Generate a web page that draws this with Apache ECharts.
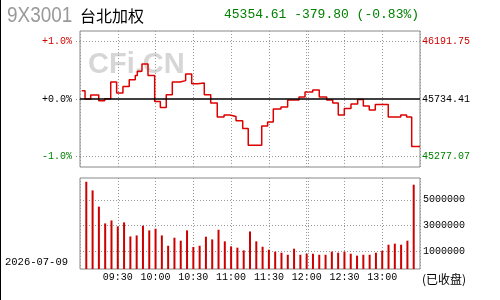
<!DOCTYPE html>
<html><head><meta charset="utf-8">
<script src="https://cdn.jsdelivr.net/npm/echarts@6/dist/echarts.min.js"></script>
<style>html,body{margin:0;padding:0;background:#fff}#c{width:500px;height:300px}</style>
</head><body><div id="c"></div>
<script>
// ---- data ----
const codeText = '9X3001';
const nameText = '台北加权';
const quoteText = '45354.61 -379.80 (-0.83%)';
const dateText = '2026-07-09';
const statusText = '(已收盘)';
const watermarkText = 'CFi.CN';

const basePrice = 45734.41;           // previous close
const pctTickValues = [0.01, 0, -0.01];
const pctTickLabels = ['+1.0%', '+0.0%', '-1.0%'];
const priceTickLabels = ['46191.75', '45734.41', '45277.07'];
const tickColors = ['#cc0000', '#000000', '#008000'];

const timeTickValues = [30, 60, 90, 120, 150, 180, 210, 240];   // minutes after 09:00
const timeTickLabels = ['09:30', '10:00', '10:30', '11:00', '11:30', '12:00', '12:30', '13:00'];

const volTickValues = [1000000, 3000000, 5000000];
const volTickLabels = ['1000000', '3000000', '5000000'];

// price step changes: minutes after 09:00, index value
const priceTimes = [1.4, 4.0, 8.5, 14.9, 19.6, 24.4, 29.1, 34.1, 39.1, 43.9, 45.5, 49.2, 54.0, 59.3, 63.8, 68.5,
  73.3, 79.4, 83.9, 88.7, 93.5, 98.7, 103.8, 109.0, 114.4, 119.1, 123.9, 129.2, 133.6, 144.3, 149.0, 153.5,
  159.6, 164.9, 173.9, 178.7, 184.8, 190.0, 195.9, 200.7, 205.1, 209.9, 215.2, 220.5, 225.0, 229.7, 234.5,
  244.8, 254.7, 259.4, 263.4, 270];
const priceValues = [45801, 45734, 45766, 45721, 45737, 45870, 45782, 45835, 45889, 45923, 45955, 46014, 45923, 45715, 45667, 45769,
  45870, 45881, 45934, 45857, 45862, 45769, 45702, 45590, 45606, 45595, 45561, 45499, 45365, 45518, 45550, 45654,
  45670, 45726, 45750, 45790, 45806, 45750, 45726, 45702, 45606, 45659, 45694, 45731, 45678, 45646, 45691,
  45590, 45606, 45590, 45355, 45354.61];

// volume per 5-minute bar
const volTimes = ['09:05','09:10','09:15','09:20','09:25','09:30','09:35','09:40','09:45','09:50','09:55','10:00',
  '10:05','10:10','10:15','10:20','10:25','10:30','10:35','10:40','10:45','10:50','10:55','11:00','11:05','11:10',
  '11:15','11:20','11:25','11:30','11:35','11:40','11:45','11:50','11:55','12:00','12:05','12:10','12:15','12:20',
  '12:25','12:30','12:35','12:40','12:45','12:50','12:55','13:00','13:05','13:10','13:15','13:20','13:25'];
const volValues = [6400000, 5730000, 4470000, 3170000, 3400000, 2940000, 3250000, 2160000, 2240000, 2990000, 2630000, 2760000,
  2240000, 1440000, 2060000, 1830000, 2630000, 1340000, 1440000, 2140000, 1930000, 2680000, 1780000, 1390000, 1290000, 1080000,
  2550000, 1780000, 1360000, 1130000, 980000, 900000, 740000, 1210000, 740000, 820000, 820000, 740000, 740000, 980000,
  900000, 980000, 820000, 670000, 740000, 740000, 900000, 1050000, 1520000, 1600000, 1520000, 1830000, 6170000];

// ---- chart ----
const toMin = s => { const p = s.split(':'); return (+p[0] - 9) * 60 + (+p[1]); };
const priceData = priceTimes.map((t, i) => [t, priceValues[i]]);
const volData = volTimes.map((t, i) => [toMin(t), volValues[i]]);
const priceTicks = pctTickValues.map(p => basePrice * (1 + p));
const pRange = 0.01187;
const idxOf = (arr, v) => { let b = 0; arr.forEach((a, i) => { if (Math.abs(a - v) < Math.abs(arr[b] - v)) b = i; }); return b; };
const MONO = '"Liberation Mono", monospace';
const dotted = { color: '#999', type: [1, 2], width: 1 };

const chart = echarts.init(document.getElementById('c'), null, { renderer: 'canvas' });
chart.setOption({
  animation: false,
  backgroundColor: '#fff',
  grid: [
    { left: 80, width: 340, top: 31, height: 136, show: true, borderColor: '#888', borderWidth: 1, backgroundColor: 'transparent' },
    { left: 80, width: 340, top: 178, height: 91, show: true, borderColor: '#888', borderWidth: 1, backgroundColor: 'transparent' }
  ],
  xAxis: [
    { gridIndex: 0, type: 'value', min: 0, max: 270, interval: 30,
      axisLine: { show: false }, axisTick: { show: false }, axisLabel: { show: false },
      splitLine: { show: true, lineStyle: dotted } },
    { gridIndex: 1, type: 'value', min: 0, max: 270, interval: 30,
      axisLine: { show: false }, axisTick: { show: false },
      axisLabel: { show: true, customValues: timeTickValues, margin: 3, fontFamily: MONO, fontSize: 10, color: '#000',
        formatter: v => timeTickLabels[idxOf(timeTickValues, v)] },
      splitLine: { show: true, lineStyle: dotted } }
  ],
  yAxis: [
    { gridIndex: 0, type: 'value', position: 'left', min: basePrice * (1 - pRange), max: basePrice * (1 + pRange),
      axisLine: { show: false }, splitLine: { show: false },
      axisTick: { show: true, customValues: priceTicks, length: 5, lineStyle: dotted },
      axisLabel: { show: true, customValues: priceTicks, margin: 8, fontFamily: MONO, fontSize: 10,
        formatter: v => pctTickLabels[idxOf(priceTicks, v)],
        color: v => tickColors[idxOf(priceTicks, v)] } },
    { gridIndex: 0, type: 'value', position: 'right', min: basePrice * (1 - pRange), max: basePrice * (1 + pRange),
      axisLine: { show: false }, splitLine: { show: false }, axisTick: { show: false },
      axisLabel: { show: true, customValues: priceTicks, margin: 2, fontFamily: MONO, fontSize: 10,
        formatter: v => priceTickLabels[idxOf(priceTicks, v)],
        color: v => tickColors[idxOf(priceTicks, v)] } },
    { gridIndex: 1, type: 'value', position: 'right', min: -364000, max: 6690000, startValue: -364000,
      axisLine: { show: false },
      axisTick: { show: false, customValues: volTickValues },
      splitLine: { show: true, lineStyle: dotted },
      axisLabel: { show: true, customValues: volTickValues, margin: 3, fontFamily: MONO, fontSize: 10, color: '#000',
        formatter: v => volTickLabels[idxOf(volTickValues, v)] } }
  ],
  graphic: [
    { type: 'line', z: 10, silent: true, shape: { x1: 0.5, y1: 0, x2: 0.5, y2: 300 }, style: { stroke: '#000', lineWidth: 1 } },
    { type: 'text', x: 88, y: 65, z: 0, silent: true,
      style: { text: watermarkText, x: 0, y: 0, textVerticalAlign: 'middle', font: 'bold 29px "Liberation Sans"', fill: '#d6d6d6' } },
    { type: 'text', x: 7, y: 16, scaleX: 0.86, z: 10,
      style: { text: codeText, x: 0, y: 0, textVerticalAlign: 'middle', font: '22px "Liberation Sans"', fill: '#999' } },
    { type: 'text', x: 80, y: 15.5, z: 10,
      style: { text: nameText, x: 0, y: 0, textVerticalAlign: 'middle', font: '16px "Noto Sans CJK SC"', fill: '#000' } },
    { type: 'text', x: 224, y: 14.5, z: 10,
      style: { text: quoteText, x: 0, y: 0, textVerticalAlign: 'middle', font: '13px ' + MONO, fill: '#008000' } },
    { type: 'text', x: 5, y: 262, z: 10,
      style: { text: dateText, x: 0, y: 0, textVerticalAlign: 'middle', font: '10.5px ' + MONO, fill: '#000' } },
    { type: 'text', x: 422, y: 279, z: 10,
      style: { text: statusText, x: 0, y: 0, textVerticalAlign: 'middle', font: '12px "Noto Sans CJK SC"', fill: '#000' } }
  ],
  series: [
    { type: 'line', xAxisIndex: 0, yAxisIndex: 0, data: priceData, step: 'end', symbol: 'none', z: 3,
      lineStyle: { color: '#dd0000', width: 1.5 },
      markLine: { silent: true, symbol: 'none', label: { show: false }, animation: false,
        data: [
          { yAxis: priceTicks[0], lineStyle: dotted },
          { yAxis: priceTicks[2], lineStyle: dotted },
          { xAxis: 181.6, lineStyle: dotted },
          { yAxis: priceTicks[1], lineStyle: { color: '#000', type: 'solid', width: 1.5 } }
        ] } },
    { type: 'bar', xAxisIndex: 1, yAxisIndex: 2, data: volData, barWidth: 2, z: 3,
      itemStyle: { color: '#cc0000' },
      markLine: { silent: true, symbol: 'none', label: { show: false }, animation: false,
        data: [ { xAxis: 181.6, lineStyle: dotted } ] } }
  ]
});
</script>
</body></html>
